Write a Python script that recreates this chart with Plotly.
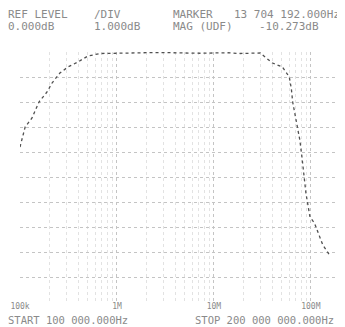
import plotly.graph_objects as go

# Measured response (frequency in Hz, magnitude in dB)
freq_hz = [1.0e5, 1.07e5, 1.13e5, 1.33e5, 1.57e5, 1.9e5, 2.14e5, 2.58e5, 3.12e5, 3.96e5,
           5.02e5, 6.7e5, 1.07e6, 2.78e6, 7.2e6, 1.37e7, 1.86e7, 3.0e7, 4.02e7, 5.1e7,
           6.0e7, 6.3e7, 6.5e7, 7.3e7, 7.7e7, 8.1e7, 8.3e7, 8.9e7, 9.8e7, 1.09e8,
           1.33e8, 1.56e8]
mag_db = [-3.8, -3.3, -3.0, -2.64, -2.0, -1.6, -1.24, -0.84, -0.6, -0.4,
          -0.16, -0.06, -0.04, -0.02, -0.05, -0.03, -0.06, -0.04, -0.44, -0.6,
          -1.0, -1.48, -2.0, -3.0, -3.52, -4.2, -4.6, -5.64, -6.6, -6.84,
          -7.72, -8.12]

tick_vals = [1e5, 1e6, 1e7, 1e8]
tick_text = ["100k", "1M", "10M", "100M"]

header_line1 = ["REF LEVEL", "/DIV", "MARKER", "13 704 192.000Hz"]
header_line2 = ["0.000dB", "1.000dB", "MAG (UDF)", "-10.273dB"]
start_text = "START 100 000.000Hz"
stop_text = "STOP 200 000 000.000Hz"

W, H = 337, 319
ML, MR, MT, MB = 12, 5, 44, 25
PW, PH = W - ML - MR, H - MT - MB


def px(xr):
    return (xr - 8 - ML) / PW


def py(yr):
    return (H - MB - (yr - 8)) / PH


fig = go.Figure()
fig.add_trace(go.Scatter(x=freq_hz, y=mag_db, mode="lines",
                         line=dict(color="#505050", width=1.3, dash="dot"),
                         showlegend=False))

font = dict(family="DejaVu Sans Mono", size=11, color="#8a8a8a")
bfont = dict(family="DejaVu Sans Mono", size=10.5, color="#8a8a8a")
tfont = dict(family="DejaVu Sans Mono", size=8, color="#8a8a8a")
grid = dict(showgrid=True, gridcolor="#c4c4c4", griddash="dot", gridwidth=1)

fig.update_layout(
    width=W, height=H,
    margin=dict(l=ML, r=MR, t=MT, b=MB),
    paper_bgcolor="white", plot_bgcolor="white",
    xaxis=dict(type="log", range=[5, 8.301], tickvals=tick_vals, ticktext=tick_text,
               tickfont=tfont, ticks="", showline=False, zeroline=False,
               automargin=False, ticklabelstandoff=-2,
               minor=dict(showgrid=True, gridcolor="#e2e2e2", griddash="dot",
                          dtick="D1"),
               **grid),
    yaxis=dict(range=[-10, 0], dtick=1, showticklabels=False, ticks="",
               showline=False, zeroline=False, automargin=False, **grid),
)

y1, y2 = py(14), py(27)
anns = [
    dict(text=header_line1[0], x=px(7), y=y1, xanchor="left", font=font),
    dict(text=header_line1[1], x=px(93), y=y1, xanchor="left", font=font),
    dict(text=header_line1[2], x=px(172), y=y1, xanchor="left", font=font),
    dict(text=header_line1[3], x=px(341), y=y1, xanchor="right", font=font),
    dict(text=header_line2[0], x=px(7), y=y2, xanchor="left", font=font),
    dict(text=header_line2[1], x=px(93), y=y2, xanchor="left", font=font),
    dict(text=header_line2[2], x=px(172), y=y2, xanchor="left", font=font),
    dict(text=header_line2[3], x=px(258), y=y2, xanchor="left", font=font),
    dict(text=start_text, x=px(7), y=py(319.5), xanchor="left", font=bfont),
    dict(text=stop_text, x=px(194), y=py(319.5), xanchor="left", font=bfont),
]
for a in anns:
    fig.add_annotation(xref="paper", yref="paper", showarrow=False,
                       yanchor="middle", borderpad=0, **a)

fig.write_html("out.html")
